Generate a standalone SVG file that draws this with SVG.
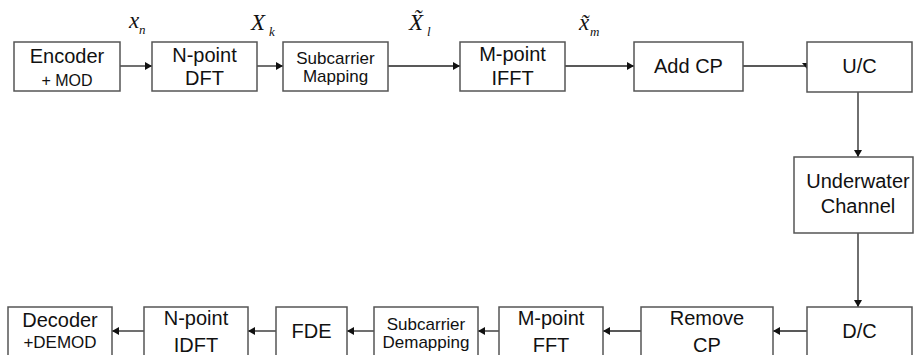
<svg xmlns="http://www.w3.org/2000/svg" width="914" height="355" viewBox="0 0 914 355">
<defs>
<style>
.box{fill:#fff;stroke:#555;stroke-width:1.5}
.t{font-family:"Liberation Sans",Arial,sans-serif;font-size:20px;fill:#111;text-anchor:middle}
.s{font-size:17px}
.m{font-size:16px}
.c{stroke:#222;stroke-width:1.3;fill:none}
.lbl{font-family:"Liberation Serif","Times New Roman",serif;font-style:italic;fill:#111}
.big{font-size:23px}
.sub{font-size:13px}
</style>
<marker id="ah" markerWidth="8" markerHeight="8" refX="7" refY="4" orient="auto" markerUnits="userSpaceOnUse">
<path d="M0,0 L7,4 L0,8 Z" fill="#111"/>
</marker>
</defs>
<rect width="914" height="355" fill="#fff"/>
<g id="connectors">
<line class="c" x1="120" y1="66" x2="152" y2="66" marker-end="url(#ah)"/>
<line class="c" x1="257" y1="66" x2="283" y2="66" marker-end="url(#ah)"/>
<line class="c" x1="388" y1="66" x2="460" y2="66" marker-end="url(#ah)"/>
<line class="c" x1="565" y1="66" x2="634" y2="66" marker-end="url(#ah)"/>
<line class="c" x1="743" y1="66" x2="807" y2="66"/>
<path d="M802,63 L812,63 L807,69 Z" fill="#111"/>
<line class="c" x1="858" y1="92" x2="858" y2="157" marker-end="url(#ah)"/>
<line class="c" x1="858" y1="233" x2="858" y2="307" marker-end="url(#ah)"/>
<line class="c" x1="807" y1="331" x2="773" y2="331" marker-end="url(#ah)"/>
<line class="c" x1="641" y1="331" x2="603" y2="331" marker-end="url(#ah)"/>
<line class="c" x1="499" y1="331" x2="478" y2="331" marker-end="url(#ah)"/>
<line class="c" x1="374" y1="331" x2="347" y2="331" marker-end="url(#ah)"/>
<line class="c" x1="276" y1="331" x2="248" y2="331" marker-end="url(#ah)"/>
<line class="c" x1="144" y1="331" x2="112" y2="331" marker-end="url(#ah)"/>
</g>
<g id="labels">
<text class="lbl big" x="129" y="28">x</text><text class="lbl sub" x="139" y="34">n</text>
<text class="lbl big" x="251" y="30">X</text><text class="lbl sub" x="269" y="36">k</text>
<text class="lbl big" x="409" y="30">X̃</text><text class="lbl sub" x="427" y="36">l</text>
<text class="lbl big" x="579" y="30">x̃</text><text class="lbl sub" x="590" y="36">m</text>
</g>
<g id="encoder"><rect class="box" x="14" y="42" width="106" height="49"/><text class="t" x="67" y="63">Encoder</text><text class="t m" x="67" y="86">+ MOD</text></g>
<g id="dft"><rect class="box" x="152" y="42" width="105" height="49"/><text class="t" x="204.5" y="62">N-point</text><text class="t" x="204.5" y="85">DFT</text></g>
<g id="mapping"><rect class="box" x="283" y="42" width="105" height="49"/><text class="t s" x="335.5" y="64">Subcarrier</text><text class="t s" x="335.5" y="82">Mapping</text></g>
<g id="ifft"><rect class="box" x="460" y="42" width="105" height="49"/><text class="t" x="512.5" y="61">M-point</text><text class="t" x="512.5" y="85">IFFT</text></g>
<g id="addcp"><rect class="box" x="634" y="42" width="109" height="49"/><text class="t" x="688.5" y="73">Add CP</text></g>
<g id="uc"><rect class="box" x="807" y="42" width="105" height="50"/><text class="t" x="859.5" y="73">U/C</text></g>
<g id="channel"><rect class="box" x="794" y="157" width="119" height="76"/><text class="t" x="858" y="188">Underwater</text><text class="t" x="858" y="213">Channel</text></g>
<g id="dc"><rect class="box" x="807" y="307" width="105" height="52"/><text class="t" x="859.5" y="338">D/C</text></g>
<g id="removecp"><rect class="box" x="641" y="307" width="132" height="52"/><text class="t" x="707" y="325">Remove</text><text class="t" x="707" y="352">CP</text></g>
<g id="fft"><rect class="box" x="499" y="307" width="104" height="52"/><text class="t" x="551" y="325">M-point</text><text class="t" x="551" y="352">FFT</text></g>
<g id="demapping"><rect class="box" x="374" y="307" width="104" height="52"/><text class="t s" x="426" y="330">Subcarrier</text><text class="t s" x="426" y="348">Demapping</text></g>
<g id="fde"><rect class="box" x="276" y="307" width="71" height="52"/><text class="t" x="311.5" y="338">FDE</text></g>
<g id="idft"><rect class="box" x="144" y="307" width="104" height="52"/><text class="t" x="196" y="325">N-point</text><text class="t" x="196" y="352">IDFT</text></g>
<g id="decoder"><rect class="box" x="8" y="307" width="104" height="52"/><text class="t" x="60" y="327">Decoder</text><text class="t s" x="60" y="348">+DEMOD</text></g>
</svg>
